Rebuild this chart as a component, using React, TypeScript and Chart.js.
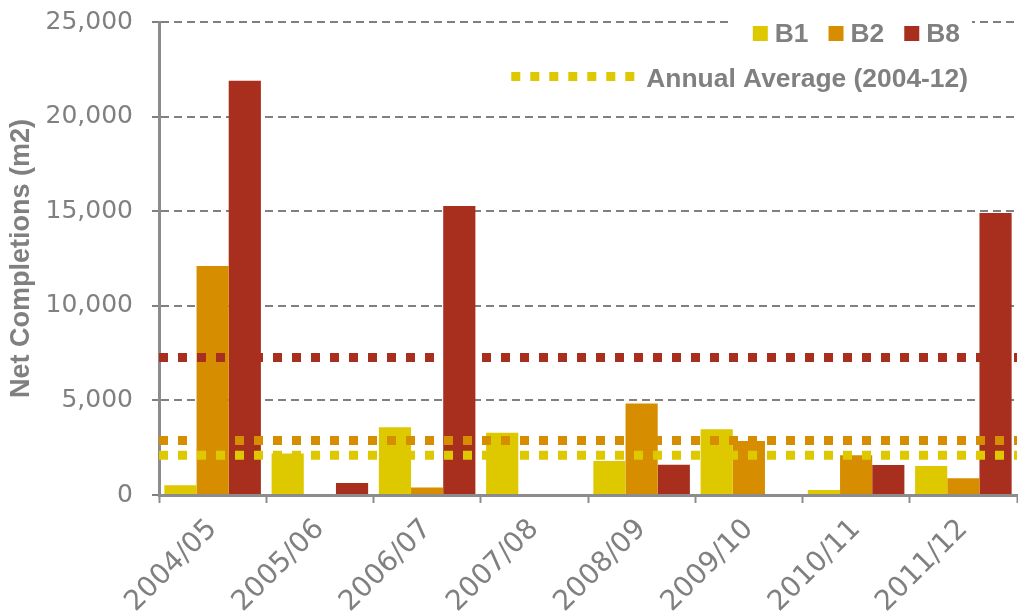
import React, { useEffect, useRef } from "react";
import { Chart, registerables } from "chart.js";

Chart.register(...registerables);

const categories = ["2004/05", "2005/06", "2006/07", "2007/08", "2008/09", "2009/10", "2010/11", "2011/12"];
const seriesNames = ["B1", "B2", "B8"];
const b1Values = [510, 2200, 3580, 3290, 1800, 3470, 260, 1530];
const b2Values = [12100, 0, 400, 0, 4840, 2850, 2100, 880];
const b8Values = [21900, 630, 15270, 0, 1600, 0, 1580, 14900];
const averageValues = [2100, 2880, 7270]; // B1, B2, B8 annual averages
const averageLabel = "Annual Average (2004-12)";
const yTickValues = [0, 5000, 10000, 15000, 20000, 25000];
const yTitle = "Net Completions (m2)";

const seriesColors = ["#DEC800", "#D68E00", "#A82E1E"];
const GRAY = "#808080";
const AXIS_GRAY = "#8C8C8C";
const TICK_FONT = '"DejaVu Sans", sans-serif';
const BOLD_FONT = '"Liberation Sans", Arial, sans-serif';

const legendPlugin = {
  id: "customLegend",
  afterDraw(chart: any) {
    const ctx = chart.ctx;
    const { right, top } = chart.chartArea;
    ctx.save();
    ctx.font = `bold 26.4px ${BOLD_FONT}`;
    ctx.textBaseline = "alphabetic";
    ctx.textAlign = "left";
    const box = 15;
    const boxGap = 7;
    const itemGap = 20;
    const widths = seriesNames.map((n) => ctx.measureText(n).width);
    const total = widths.reduce((a, w) => a + box + boxGap + w, 0) + itemGap * (seriesNames.length - 1);
    let x = right - 57 - total;
    ctx.fillStyle = "#ffffff";
    ctx.fillRect(x - 24, top - 8, total + 36, 30);
    seriesNames.forEach((n, i) => {
      ctx.fillStyle = seriesColors[i];
      ctx.fillRect(x, top + 4, box, box);
      ctx.fillStyle = GRAY;
      ctx.fillText(n, x + box + boxGap, top + 19.5);
      x += box + boxGap + widths[i] + itemGap;
    });
    const tw = ctx.measureText(averageLabel).width;
    const textX = right - 49 - tw;
    const sampleLen = 124;
    const sx = textX - 11 - sampleLen;
    ctx.fillStyle = "#ffffff";
    ctx.fillRect(sx - 6, top + 38, sampleLen + tw + 26, 36);
    ctx.strokeStyle = seriesColors[0];
    ctx.lineWidth = 9;
    ctx.setLineDash([9, 10]);
    ctx.lineCap = "butt";
    ctx.beginPath();
    ctx.moveTo(sx, top + 54.5);
    ctx.lineTo(sx + sampleLen, top + 54.5);
    ctx.stroke();
    ctx.setLineDash([]);
    ctx.fillStyle = GRAY;
    ctx.fillText(averageLabel, textX, top + 65);
    ctx.restore();
  },
};

export default function App() {
  const canvasRef = useRef<HTMLCanvasElement | null>(null);

  useEffect(() => {
    if (!canvasRef.current) return;
    const barSets = [b1Values, b2Values, b8Values].map((vals, i) => ({
      type: "bar",
      label: seriesNames[i],
      data: vals.map((v, j) => ({ x: j, y: v })),
      backgroundColor: seriesColors[i],
      borderWidth: 0,
      categoryPercentage: 0.9,
      barPercentage: 1.0,
      order: 2,
    }));
    const avgSets = averageValues.map((v, i) => ({
      type: "line",
      label: `${seriesNames[i]} ${averageLabel}`,
      data: [
        { x: -0.5, y: v },
        { x: categories.length - 0.5, y: v },
      ],
      borderColor: seriesColors[i],
      borderWidth: 9,
      borderDash: [9, 10],
      borderCapStyle: "butt",
      pointRadius: 0,
      fill: false,
      order: 1,
    }));

    const chart = new Chart(canvasRef.current, {
      type: "bar",
      data: {
        datasets: [...barSets, ...avgSets] as any,
      },
      options: {
        animation: false,
        responsive: false,
        devicePixelRatio: 1,
        layout: { padding: { top: 22, right: 1, left: 0, bottom: 0 } },
        plugins: {
          legend: { display: false },
          tooltip: { enabled: false },
        },
        scales: {
          x: {
            type: "linear",
            offset: false,
            min: -0.5,
            max: categories.length - 0.5,
            afterBuildTicks: (s: any) => {
              s.ticks = categories.map((_, i) => ({ value: i }));
            },
            grid: {
              display: true,
              offset: true,
              drawOnChartArea: false,
              drawTicks: true,
              tickLength: 8,
              tickWidth: 2,
              tickColor: AXIS_GRAY,
            },
            border: { display: true, color: AXIS_GRAY, width: 3 },
            ticks: {
              color: GRAY,
              font: { family: TICK_FONT, size: 28 },
              maxRotation: 45,
              minRotation: 45,
              padding: 10,
              autoSkip: false,
              callback: (v: any) => categories[Math.round(Number(v))] ?? "",
            },
            afterFit: (s: any) => {
              s.height = 116;
              s.paddingLeft = 0;
              s.paddingRight = 0;
            },
          },
          y: {
            type: "linear",
            min: 0,
            max: 25000,
            afterBuildTicks: (s: any) => {
              s.ticks = yTickValues.map((v) => ({ value: v }));
            },
            grid: {
              color: GRAY,
              lineWidth: 2,
              tickLength: 7,
              tickColor: GRAY,
              tickWidth: 2,
            },
            border: { display: true, color: AXIS_GRAY, width: 3, dash: [8, 5] },
            ticks: {
              color: GRAY,
              font: { family: TICK_FONT, size: 25 },
              padding: 19,
              callback: (v: any) => Number(v).toLocaleString("en-US"),
            },
            title: {
              display: true,
              text: yTitle,
              color: GRAY,
              font: { family: BOLD_FONT, size: 27, weight: "bold" },
              padding: { top: 5, bottom: 0 },
            },
            afterFit: (s: any) => {
              s.width = 159;
              s.paddingTop = 0;
              s.paddingBottom = 0;
            },
          },
        },
      } as any,
      plugins: [legendPlugin],
    });
    return () => chart.destroy();
  }, []);

  return (
    <div style={{ position: "fixed", left: 0, top: 0, width: 1018, height: 611, background: "#fff" }}>
      <canvas ref={canvasRef} width={1018} height={611} style={{ display: "block" }} />
    </div>
  );
}
